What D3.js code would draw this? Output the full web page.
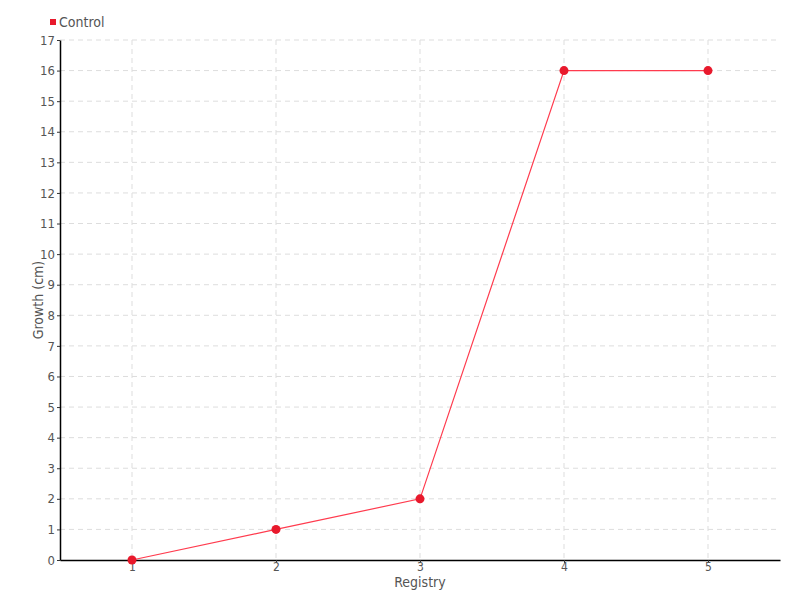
<!DOCTYPE html>
<html>
<head>
<meta charset="utf-8">
<script src="https://cdn.jsdelivr.net/npm/d3@7"></script>
<style>
  body { margin: 0; background: #fff; }
  svg text { font-family: "DejaVu Sans", sans-serif; font-stretch: condensed; fill: #555; }
  .grid line { stroke: #ddd; stroke-dasharray: 5,4; }
</style>
</head>
<body>
<div id="chart"></div>
<script>
// data
const registry = [1, 2, 3, 4, 5]
const growth = [0, 1, 2, 16, 16]
const yTicks = d3.range(0, 18)
const seriesName = 'Control'

const width = 800, height = 600
const margin = { top: 40, right: 20, bottom: 40, left: 60 }

const svg = d3.select('#chart').append('svg')
    .attr('width', width)
    .attr('height', height)

const x = d3.scalePoint()
    .domain(registry)
    .range([margin.left, width - margin.right])
    .padding(0.5)

const y = d3.scaleLinear()
    .domain([0, 17])
    .range([height - margin.bottom, margin.top])

// grid
svg.append('g').attr('class', 'grid')
    .selectAll('line.h')
    .data(yTicks.slice(1))
    .enter().append('line')
        .attr('x1', margin.left).attr('x2', width - margin.right)
        .attr('y1', d => y(d)).attr('y2', d => y(d))

svg.append('g').attr('class', 'grid')
    .selectAll('line.v')
    .data(registry)
    .enter().append('line')
        .attr('x1', d => x(d)).attr('x2', d => x(d))
        .attr('y1', margin.top).attr('y2', height - margin.bottom)

// axes
let yAxis = svg.append('g')
    .attr('transform', `translate(${margin.left},0)`)
    .call(d3.axisLeft(y).tickValues(yTicks).tickSize(3).tickSizeOuter(0).tickPadding(2))
yAxis.select('.domain').attr('stroke', '#000').attr('stroke-width', 1.5)
yAxis.selectAll('.tick line').attr('stroke', '#333')
yAxis.selectAll('text').style('font-size', '13px').attr('fill', '#555')

let xAxis = svg.append('g')
    .attr('transform', `translate(0,${height - margin.bottom})`)
    .call(d3.axisBottom(x).tickSize(3).tickSizeOuter(0).tickPadding(-1))
xAxis.select('.domain').attr('stroke', '#000').attr('stroke-width', 1.5)
xAxis.selectAll('.tick line').attr('stroke', '#333')
xAxis.selectAll('text').style('font-size', '12px').attr('fill', '#555')

// axis titles
svg.append('text')
    .attr('x', x(3)).attr('y', 587)
    .attr('text-anchor', 'middle')
    .style('font-size', '14px')
    .text('Registry')

svg.append('text')
    .attr('transform', `translate(43,${y(8.5)}) rotate(-90)`)
    .attr('text-anchor', 'middle')
    .style('font-size', '14px')
    .text('Growth (cm)')

// series
const line = d3.line()
    .x((d, i) => x(registry[i]))
    .y(d => y(d))

svg.append('path')
    .datum(growth)
    .attr('d', line)
    .attr('fill', 'none')
    .attr('stroke', '#ff3b4e')
    .attr('stroke-width', 1.2)

svg.append('g').selectAll('circle')
    .data(growth)
    .enter().append('circle')
        .attr('cx', (d, i) => x(registry[i]))
        .attr('cy', d => y(d))
        .attr('r', 4.5)
        .attr('fill', '#e8192c')

// legend
svg.append('rect')
    .attr('x', 50).attr('y', 19)
    .attr('width', 6).attr('height', 6)
    .attr('fill', '#e8192c')
svg.append('text')
    .attr('x', 59).attr('y', 27)
    .style('font-size', '14px')
    .text(seriesName)
</script>
</body>
</html>
